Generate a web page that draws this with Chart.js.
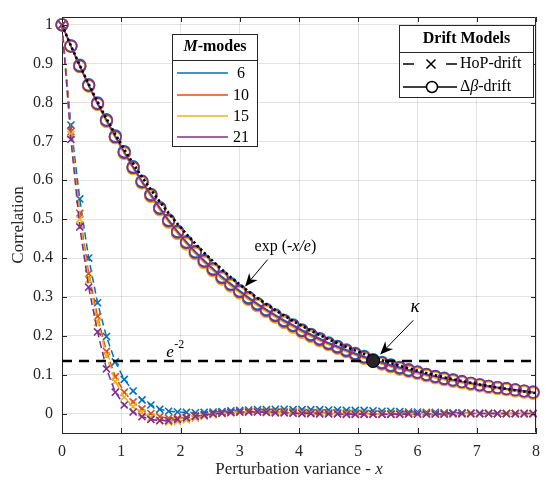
<!DOCTYPE html>
<html>
<head>
<meta charset="utf-8">
<script src="https://cdn.jsdelivr.net/npm/chart.js@4/dist/chart.umd.min.js"></script>
<style>
html,body{margin:0;padding:0;background:#fff;}
#wrap{width:551px;height:484px;position:relative;}
</style>
</head>
<body>
<div id="wrap"><canvas id="c" width="551" height="484"></canvas></div>
<script>
// ---------- data ----------
const xVals = [0,0.15,0.3,0.45,0.6,0.75,0.9,1.05,1.2,1.35,1.5,1.65,1.8,1.95,2.1,2.25,2.4,2.55,2.7,2.85,3,3.15,3.3,3.45,3.6,3.75,3.9,4.05,4.2,4.35,4.5,4.65,4.8,4.95,5.1,5.25,5.4,5.55,5.7,5.85,6,6.15,6.3,6.45,6.6,6.75,6.9,7.05,7.2,7.35,7.5,7.65,7.8,7.95];

const modes = ['6','10','15','21'];

const dbeta6  = [1.000,0.946,0.896,0.846,0.799,0.756,0.714,0.674,0.635,0.598,0.564,0.530,0.498,0.469,0.442,0.417,0.394,0.373,0.352,0.334,0.316,0.299,0.283,0.268,0.254,0.240,0.228,0.215,0.204,0.193,0.182,0.173,0.164,0.155,0.147,0.139,0.132,0.125,0.119,0.113,0.107,0.101,0.096,0.091,0.087,0.082,0.078,0.074,0.070,0.067,0.064,0.061,0.058,0.055];
const dbeta10 = [1.000,0.945,0.893,0.843,0.796,0.752,0.710,0.670,0.631,0.594,0.559,0.525,0.493,0.464,0.437,0.412,0.389,0.368,0.347,0.329,0.311,0.294,0.278,0.263,0.249,0.235,0.223,0.210,0.199,0.188,0.178,0.169,0.160,0.151,0.143,0.135,0.128,0.121,0.115,0.109,0.104,0.098,0.093,0.088,0.084,0.080,0.076,0.072,0.068,0.065,0.062,0.059,0.056,0.053];
const dbeta15 = [1.000,0.944,0.892,0.842,0.795,0.751,0.709,0.669,0.630,0.593,0.558,0.524,0.492,0.463,0.436,0.411,0.388,0.367,0.346,0.328,0.310,0.293,0.277,0.262,0.248,0.234,0.222,0.209,0.198,0.187,0.177,0.168,0.159,0.150,0.142,0.134,0.127,0.120,0.114,0.108,0.103,0.097,0.092,0.087,0.083,0.079,0.075,0.071,0.067,0.064,0.061,0.058,0.055,0.052];
const dbeta21 = [1.000,0.945,0.894,0.844,0.797,0.754,0.712,0.672,0.633,0.596,0.562,0.528,0.496,0.467,0.440,0.415,0.392,0.371,0.350,0.332,0.314,0.297,0.281,0.266,0.252,0.238,0.226,0.213,0.202,0.191,0.180,0.171,0.162,0.153,0.145,0.137,0.130,0.123,0.117,0.111,0.106,0.100,0.095,0.090,0.086,0.082,0.078,0.074,0.070,0.067,0.064,0.061,0.058,0.055];

const hop6  = [1.000,0.742,0.552,0.400,0.285,0.198,0.133,0.088,0.058,0.035,0.022,0.011,0.006,0.004,0.003,0.002,0.003,0.004,0.005,0.007,0.008,0.009,0.010,0.010,0.011,0.011,0.010,0.010,0.010,0.010,0.009,0.009,0.008,0.008,0.008,0.007,0.006,0.006,0.005,0.004,0.004,0.003,0.003,0.002,0.002,0.002,0.001,0.001,0.001,0.000,0.000,0.000,0.000,0.000];
const hop10 = [1.000,0.725,0.515,0.360,0.250,0.160,0.095,0.055,0.030,0.012,0.000,-0.008,-0.012,-0.012,-0.010,-0.006,-0.003,0.000,0.002,0.003,0.004,0.005,0.005,0.005,0.005,0.005,0.004,0.004,0.003,0.003,0.002,0.002,0.001,0.001,0.000,0.000,0.000,0.000,0.000,0.000,-0.001,-0.001,-0.001,-0.001,0.000,0.000,0.000,0.000,0.000,0.000,0.000,0.000,0.000,0.000];
const hop15 = [1.000,0.718,0.500,0.345,0.235,0.148,0.082,0.042,0.018,0.002,-0.010,-0.018,-0.022,-0.020,-0.016,-0.012,-0.007,-0.003,0.000,0.002,0.003,0.004,0.004,0.004,0.003,0.003,0.002,0.002,0.001,0.001,0.000,0.000,0.000,-0.001,-0.001,-0.001,-0.001,-0.001,-0.001,-0.001,0.000,0.000,0.000,0.000,0.000,0.000,0.000,0.000,0.000,0.000,0.000,0.000,0.000,0.000];
const hop21 = [1.000,0.705,0.480,0.325,0.210,0.115,0.055,0.022,0.004,-0.008,-0.015,-0.018,-0.018,-0.015,-0.011,-0.007,-0.004,-0.001,0.001,0.003,0.004,0.004,0.004,0.003,0.002,0.002,0.001,0.000,0.000,-0.001,-0.001,-0.001,-0.002,-0.002,-0.002,-0.002,-0.002,-0.002,-0.002,-0.001,-0.001,-0.001,-0.001,-0.001,0.000,0.000,0.000,0.000,0.000,0.000,0.000,0.000,0.000,0.000];

// exp(-x/e) reference curve values
const expX = [0,0.15,0.3,0.45,0.6,0.75,0.9,1.05,1.2,1.35,1.5,1.65,1.8,1.95,2.1,2.25,2.4,2.55,2.7,2.85,3,3.15,3.3,3.45,3.6,3.75,3.9,4.05,4.2,4.35,4.5,4.65,4.8,4.95,5.1,5.25,5.4,5.55,5.7,5.85,6,6.15,6.3,6.45,6.6,6.75,6.9,7.05,7.2,7.35,7.5,7.65,7.8,7.95,8];
const expY = [1.0000,0.9463,0.8955,0.8474,0.8019,0.7589,0.7182,0.6796,0.6431,0.6086,0.5759,0.5450,0.5157,0.4880,0.4618,0.4370,0.4136,0.3914,0.3704,0.3505,0.3317,0.3139,0.2970,0.2811,0.2660,0.2517,0.2382,0.2254,0.2133,0.2019,0.1910,0.1808,0.1711,0.1619,0.1532,0.1450,0.1372,0.1298,0.1229,0.1163,0.1100,0.1041,0.0985,0.0932,0.0882,0.0835,0.0790,0.0748,0.0708,0.0670,0.0634,0.0600,0.0568,0.0537,0.0527];

// e^-2 threshold line and kappa point
const thrX = [0, 8];
const thrY = [0.1353, 0.1353];
const kappaX = [5.25];
const kappaY = [0.1353];

const xTicks = [0,1,2,3,4,5,6,7,8];
const xTickLabels = ['0','1','2','3','4','5','6','7','8'];
const yTicks = [0,0.1,0.2,0.3,0.4,0.5,0.6,0.7,0.8,0.9,1];
const yTickLabels = ['0','0.1','0.2','0.3','0.4','0.5','0.6','0.7','0.8','0.9','1'];

// ---------- styles ----------
const colors = ['#0072BD','#D95319','#EDB120','#7E2F8E'];
const FONT = "'Liberation Serif','Times New Roman',serif";
const AX = '#262626';

function pts(xs, ys){ return xs.map((x,i)=>({x:x, y:ys[i]})); }

const dbetaSets = [dbeta6, dbeta10, dbeta15, dbeta21];
const hopSets = [hop6, hop10, hop15, hop21];

const datasets = [];
datasets.push({label:'kappa', data:pts(kappaX,kappaY), showLine:false, pointRadius:6.5, pointBackgroundColor:'#262626', pointBorderColor:'#000', pointBorderWidth:1, clip:false});
datasets.push({label:'e-2', data:pts(thrX,thrY), borderColor:'#000', borderWidth:2.5, borderDash:[10,7], pointRadius:0});
datasets.push({label:'exp', data:pts(expX,expY), borderColor:'#000', borderWidth:2.6, borderDash:[2.4,2.6], pointRadius:0});
for (let i=3;i>=0;i--) {
  datasets.push({label:'dbeta '+modes[i], data:pts(xVals,dbetaSets[i]), borderColor:colors[i], borderWidth:1.5,
    pointStyle:'circle', pointRadius:5.8, pointBorderWidth:1.6, pointBorderColor:colors[i], pointBackgroundColor:'rgba(0,0,0,0)', clip:false});
}
for (let i=3;i>=0;i--) {
  datasets.push({label:'hop '+modes[i], data:pts(xVals,hopSets[i]), borderColor:colors[i], borderWidth:1.5, borderDash:[7,4],
    pointStyle:'crossRot', pointRadius:5, pointBorderWidth:1.6, pointBorderColor:colors[i], clip:false});
}

// ---------- overlay plugin ----------
function arrow(ctx, x1,y1,x2,y2){
  const ang = Math.atan2(y2-y1, x2-x1);
  const L = 13, W = 5.5, N = 9;
  ctx.save();
  ctx.strokeStyle = '#000'; ctx.fillStyle = '#000'; ctx.lineWidth = 1;
  ctx.beginPath(); ctx.moveTo(x1,y1); ctx.lineTo(x2 - Math.cos(ang)*N, y2 - Math.sin(ang)*N); ctx.stroke();
  const c = Math.cos(ang), s = Math.sin(ang);
  const bx = x2 - c*L, by = y2 - s*L;
  ctx.beginPath();
  ctx.moveTo(x2,y2);
  ctx.lineTo(bx - s*W, by + c*W);
  ctx.lineTo(x2 - c*N, y2 - s*N);
  ctx.lineTo(bx + s*W, by - c*W);
  ctx.closePath(); ctx.fill();
  ctx.restore();
}
function runs(ctx, parts, x, y, align){
  let total = 0;
  parts.forEach(p=>{ ctx.font = p[1]; total += ctx.measureText(p[0]).width; });
  let cx = align==='center' ? x - total/2 : x;
  parts.forEach(p=>{ ctx.font = p[1]; ctx.fillText(p[0], cx, y); cx += ctx.measureText(p[0]).width; });
}

const overlay = {
  id:'overlay',
  afterDraw(chart){
    const ctx = chart.ctx, a = chart.chartArea;
    const xs = chart.scales.x, ys = chart.scales.y;
    ctx.save();
    // box
    ctx.strokeStyle = AX; ctx.lineWidth = 1;
    ctx.beginPath();
    ctx.moveTo(a.left+0.5, a.top+0.5); ctx.lineTo(a.right-0.5, a.top+0.5); ctx.lineTo(a.right-0.5, a.bottom-0.5);
    ctx.stroke();
    // inward ticks
    ctx.beginPath();
    xTicks.forEach(v=>{ const p = Math.round(xs.getPixelForValue(v))+0.5;
      ctx.moveTo(p, a.bottom); ctx.lineTo(p, a.bottom-5); ctx.moveTo(p, a.top); ctx.lineTo(p, a.top+5); });
    yTicks.forEach(v=>{ const p = Math.round(ys.getPixelForValue(v))+0.5;
      ctx.moveTo(a.left, p); ctx.lineTo(a.left+5, p); ctx.moveTo(a.right, p); ctx.lineTo(a.right-5, p); });
    ctx.stroke();

    ctx.fillStyle = AX; ctx.textBaseline = 'middle';
    // axis titles
    ctx.textAlign = 'left';
    runs(ctx, [['Perturbation variance - ', '17px '+FONT], ['x', 'italic 17px '+FONT]], (a.left+a.right)/2, 470, 'center');
    ctx.save();
    ctx.translate(19, (a.top+a.bottom)/2);
    ctx.rotate(-Math.PI/2);
    ctx.textAlign = 'center';
    ctx.font = '17px '+FONT;
    ctx.fillText('Correlation', 0, 0);
    ctx.restore();

    // annotations
    ctx.fillStyle = '#000'; ctx.textAlign = 'left';
    runs(ctx, [['exp (-', '16px '+FONT], ['x/e', 'italic 16px '+FONT], [')', '16px '+FONT]], xs.getPixelForValue(3.25), ys.getPixelForValue(0.428), 'left');
    arrow(ctx, xs.getPixelForValue(3.47), ys.getPixelForValue(0.396), xs.getPixelForValue(3.09), ys.getPixelForValue(0.327));
    ctx.textAlign = 'center';
    ctx.font = 'italic 19px '+FONT;
    ctx.fillText('\u03BA', xs.getPixelForValue(5.96), ys.getPixelForValue(0.275));
    arrow(ctx, xs.getPixelForValue(5.93), ys.getPixelForValue(0.240), xs.getPixelForValue(5.37), ys.getPixelForValue(0.152));
    ctx.textAlign = 'left';
    ctx.font = 'italic 17px '+FONT;
    const ex = xs.getPixelForValue(1.76), ey = ys.getPixelForValue(0.157);
    ctx.fillText('e', ex, ey);
    ctx.font = '12px '+FONT;
    ctx.fillText('-2', ex + 8, ey - 8);

    // legend 1: M-modes
    const L1 = {l:172, t:34, r:258, b:147};
    ctx.fillStyle = '#fff'; ctx.fillRect(L1.l, L1.t, L1.r-L1.l, L1.b-L1.t);
    ctx.strokeStyle = AX; ctx.lineWidth = 1;
    ctx.strokeRect(L1.l+0.5, L1.t+0.5, L1.r-L1.l-1, L1.b-L1.t-1);
    ctx.beginPath(); ctx.moveTo(L1.l, 60.5); ctx.lineTo(L1.r, 60.5); ctx.stroke();
    ctx.fillStyle = '#000'; ctx.textAlign = 'left';
    runs(ctx, [['M', 'bold italic 16px '+FONT], ['-modes', 'bold 16px '+FONT]], (L1.l+L1.r)/2, 47, 'center');
    const rowsY = [73, 95, 116, 137];
    modes.forEach((m,i)=>{
      ctx.strokeStyle = colors[i]; ctx.lineWidth = 1.5;
      ctx.beginPath(); ctx.moveTo(177, rowsY[i]); ctx.lineTo(228, rowsY[i]); ctx.stroke();
      ctx.fillStyle = '#000'; ctx.font = '16px '+FONT; ctx.textAlign = 'center';
      ctx.fillText(m, 241, rowsY[i]+1);
    });

    // legend 2: Drift Models
    const L2 = {l:399, t:25, r:534, b:98};
    ctx.fillStyle = '#fff'; ctx.fillRect(L2.l, L2.t, L2.r-L2.l, L2.b-L2.t);
    ctx.strokeStyle = AX; ctx.lineWidth = 1;
    ctx.strokeRect(L2.l+0.5, L2.t+0.5, L2.r-L2.l-1, L2.b-L2.t-1);
    ctx.beginPath(); ctx.moveTo(L2.l, 52.5); ctx.lineTo(L2.r, 52.5); ctx.stroke();
    ctx.fillStyle = '#000'; ctx.textAlign = 'center'; ctx.font = 'bold 16px '+FONT;
    ctx.fillText('Drift Models', (L2.l+L2.r)/2, 39);
    // HoP row
    ctx.strokeStyle = '#000'; ctx.lineWidth = 1.5;
    ctx.beginPath(); ctx.moveTo(403, 64); ctx.lineTo(414, 64); ctx.moveTo(446, 64); ctx.lineTo(457, 64);
    ctx.moveTo(426.5, 59.5); ctx.lineTo(435.5, 68.5); ctx.moveTo(435.5, 59.5); ctx.lineTo(426.5, 68.5);
    ctx.stroke();
    ctx.textAlign = 'left'; ctx.font = '16px '+FONT;
    ctx.fillText('HoP-drift', 460, 64);
    // dbeta row
    ctx.beginPath(); ctx.moveTo(403, 87); ctx.lineTo(426, 87); ctx.moveTo(438, 87); ctx.lineTo(457, 87); ctx.stroke();
    ctx.beginPath(); ctx.arc(432, 87, 5.5, 0, Math.PI*2); ctx.stroke();
    runs(ctx, [['\u0394', '16px '+FONT], ['\u03B2', 'italic 16px '+FONT], ['-drift', '16px '+FONT]], 460, 87, 'left');
    ctx.restore();
  }
};

new Chart(document.getElementById('c'), {
  type:'line',
  data:{ datasets: datasets },
  plugins:[overlay],
  options:{
    responsive:false, animation:false, events:[],
    layout:{ padding:{ top:8, right:5, left:0, bottom:0 } },
    elements:{ line:{ tension:0 } },
    plugins:{ legend:{display:false}, tooltip:{enabled:false} },
    scales:{
      x:{ type:'linear', min:0, max:8,
        afterBuildTicks:(s)=>{ s.ticks = xTicks.map(v=>({value:v})); },
        afterFit:(s)=>{ s.height = 51; },
        grid:{ color:'rgba(38,38,38,0.13)', drawTicks:false },
        border:{ color:AX, width:1 },
        ticks:{ padding:11, color:AX, font:{ family:FONT, size:16, lineHeight:1 }, maxRotation:0,
          callback:(v,i)=>xTickLabels[i] }
      },
      y:{ type:'linear', min:-0.05, max:1.02,
        afterBuildTicks:(s)=>{ s.ticks = yTicks.map(v=>({value:v})); },
        afterFit:(s)=>{ s.width = 62; },
        grid:{ color:'rgba(38,38,38,0.13)', drawTicks:false },
        border:{ color:AX, width:1 },
        ticks:{ padding:9, color:AX, font:{ family:FONT, size:16, lineHeight:1 },
          callback:(v,i)=>yTickLabels[i] }
      }
    }
  }
});
</script>
</body>
</html>
